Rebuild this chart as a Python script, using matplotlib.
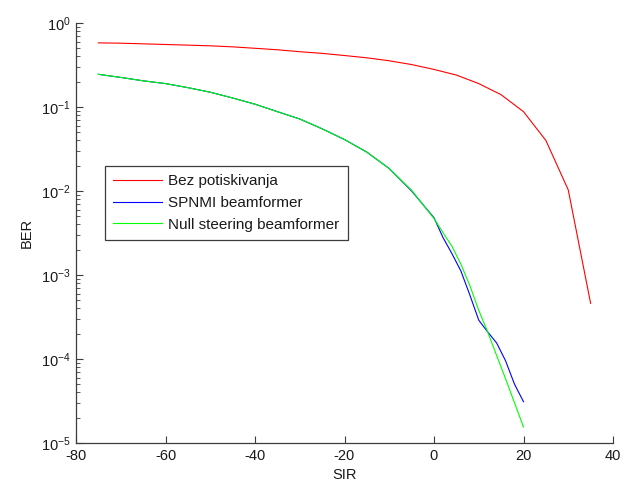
import matplotlib
matplotlib.use("Agg")
import matplotlib.pyplot as plt
import numpy as np

plt.rcParams['font.family'] = ['Liberation Sans', 'DejaVu Sans']
plt.rcParams['mathtext.default'] = 'regular'
plt.rcParams['axes.unicode_minus'] = False

# Data
sir_red = [-75, -70, -65, -60, -55, -50, -45, -40, -35, -30, -25, -20, -15, -10,
           -5, 0, 5, 10, 15, 20, 25, 30, 35]
ber_red = [0.58, 0.575, 0.565, 0.555, 0.545, 0.535, 0.52, 0.50, 0.48, 0.455, 0.435,
           0.41, 0.385, 0.355, 0.32, 0.28, 0.24, 0.19, 0.14, 0.088, 0.04, 0.0103, 0.00046]

sir_bf = [-75, -70, -65, -60, -55, -50, -45, -40, -35, -30, -25, -20, -15, -10, -5,
          0, 2, 4, 6, 8, 10, 12, 14, 16, 18, 20]
ber_spnmi = [0.245, 0.225, 0.205, 0.19, 0.17, 0.15, 0.128, 0.108, 0.088, 0.072, 0.055,
             0.041, 0.029, 0.0185, 0.0100, 0.0048, 0.0028, 0.0018, 0.00112, 0.00058,
             0.00029, 0.00021, 0.000155, 0.000095, 0.00005, 0.000031]
ber_null = [0.245, 0.225, 0.205, 0.19, 0.17, 0.15, 0.128, 0.108, 0.088, 0.072, 0.055,
            0.041, 0.029, 0.0185, 0.0102, 0.0047, 0.0032, 0.0022, 0.00135, 0.00075,
            0.00038, 0.00021, 0.00011, 0.000058, 0.00003, 0.0000155]

labels = ['Bez potiskivanja', 'SPNMI beamformer', 'Null steering beamformer']
colors = ['#ff0000', '#0000ff', '#00ff00']

fig = plt.figure(figsize=(6.33, 4.83), dpi=100)
ax = fig.add_axes([76/633, 40/483, 537/633, 420/483])

ax.semilogy(sir_red, ber_red, color=colors[0], lw=0.8, label=labels[0])
ax.semilogy(sir_bf, ber_spnmi, color=colors[1], lw=0.8, label=labels[1])
ax.semilogy(sir_bf, ber_null, color=colors[2], lw=0.8, label=labels[2])

ax.set_xlim(-80, 40)
ax.set_ylim(1e-5, 1)
ax.set_xticks([-80, -60, -40, -20, 0, 20, 40])

spine_col = '#3c3c3c'
for s in ['top', 'right']:
    ax.spines[s].set_visible(False)
for s in ['left', 'bottom']:
    ax.spines[s].set_color(spine_col)
    ax.spines[s].set_linewidth(0.9)

ax.tick_params(axis='both', which='major', direction='in', length=5, width=0.8,
               color=spine_col, labelsize=10.5, labelcolor='#1a1a1a', pad=4)
ax.tick_params(axis='y', which='minor', direction='in', length=3, width=0.6,
               color=spine_col)
ax.tick_params(axis='x', which='minor', bottom=False)

ax.set_xlabel('SIR', fontsize=10.5, color='#1a1a1a', labelpad=4)
ax.set_ylabel('BER', fontsize=10.5, color='#1a1a1a', labelpad=5)

leg = ax.legend(loc='upper left', bbox_to_anchor=(29/537, (443-166)/420),
                borderaxespad=0, fancybox=False, framealpha=1, edgecolor='#3c3c3c',
                fontsize=11, handlelength=3.15, handletextpad=0.45, labelspacing=0.5,
                borderpad=0.55)
leg.get_frame().set_linewidth(0.9)
for t in leg.get_texts():
    t.set_color('#1a1a1a')

fig.savefig('out.png', dpi=100)
